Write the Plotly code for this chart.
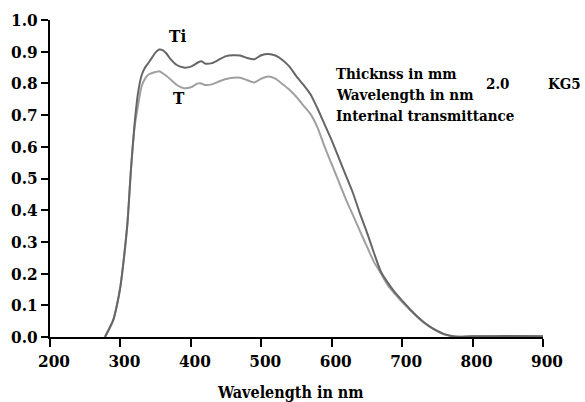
import plotly.graph_objects as go

wavelength = [278, 285, 290, 295, 300, 305, 310, 315, 320, 325, 330, 335, 340, 345, 350,
              355, 360, 365, 370, 380, 390, 400, 410, 415, 420, 430, 440, 450, 460, 470,
              480, 490, 500, 510, 520, 530, 540, 550, 560, 570, 580, 590, 600, 610, 620,
              630, 640, 650, 660, 670, 680, 690, 700, 710, 720, 730, 740, 750, 760, 770,
              780, 800, 850, 900]

ti_values = [0.0, 0.03, 0.055, 0.10, 0.16, 0.25, 0.36, 0.53, 0.67, 0.77, 0.825, 0.85, 0.865, 0.882, 0.898,
             0.907, 0.905, 0.895, 0.880, 0.858, 0.850, 0.853, 0.866, 0.870, 0.863, 0.864, 0.875, 0.886, 0.889, 0.888,
             0.880, 0.876, 0.889, 0.893, 0.888, 0.874, 0.853, 0.822, 0.795, 0.765, 0.72, 0.67, 0.62, 0.565, 0.51,
             0.455, 0.39, 0.33, 0.265, 0.205, 0.17, 0.14, 0.115, 0.09, 0.068, 0.048, 0.032, 0.019, 0.009, 0.003,
             0.001, 0.002, 0.003, 0.002]

t_values = [0.0, 0.03, 0.055, 0.10, 0.16, 0.25, 0.36, 0.53, 0.66, 0.73, 0.79, 0.815, 0.828, 0.833, 0.836,
            0.838, 0.832, 0.824, 0.815, 0.795, 0.785, 0.788, 0.800, 0.800, 0.795, 0.797, 0.806, 0.814, 0.818, 0.818,
            0.810, 0.803, 0.815, 0.822, 0.815, 0.798, 0.780, 0.757, 0.730, 0.703, 0.66, 0.60, 0.545, 0.49, 0.435,
            0.385, 0.335, 0.285, 0.237, 0.20, 0.162, 0.135, 0.11, 0.088, 0.066, 0.047, 0.031, 0.018, 0.008, 0.003,
            0.001, 0.002, 0.002, 0.002]

x_ticks = [200, 300, 400, 500, 600, 700, 800, 900]
y_ticks = [0.0, 0.1, 0.2, 0.3, 0.4, 0.5, 0.6, 0.7, 0.8, 0.9, 1.0]

serif = "DejaVu Serif Condensed, DejaVu Serif, serif"

fig = go.Figure()
fig.add_trace(go.Scatter(x=wavelength, y=t_values, mode="lines",
                         line=dict(color="#a0a0a0", width=2, shape="spline", smoothing=0.6),
                         name="T", showlegend=False, hoverinfo="skip"))
fig.add_trace(go.Scatter(x=wavelength, y=ti_values, mode="lines",
                         line=dict(color="#666666", width=2, shape="spline", smoothing=0.6),
                         name="Ti", showlegend=False, hoverinfo="skip"))

ann_font = dict(family=serif, size=17, color="black")
fig.add_annotation(x=381, y=0.95, text="<b>Ti</b>", showarrow=False, font=ann_font, xref="x", yref="y")
fig.add_annotation(x=383, y=0.755, text="<b>T</b>", showarrow=False, font=ann_font, xref="x", yref="y")

info_font = dict(family=serif, size=15, color="black")
fig.add_annotation(x=(334 - 49.5) / 494, y=1 - (74 - 20) / 317.5, text="<b>Thicknss in mm</b>", showarrow=False,
                   xanchor="left", yanchor="middle", font=info_font, xref="paper", yref="paper")
fig.add_annotation(x=(334 - 49.5) / 494, y=1 - (95 - 20) / 317.5, text="<b>Wavelength in nm</b>", showarrow=False,
                   xanchor="left", yanchor="middle", font=info_font, xref="paper", yref="paper")
fig.add_annotation(x=(334 - 49.5) / 494, y=1 - (116.5 - 20) / 317.5, text="<b>Interinal transmittance</b>",
                   showarrow=False, xanchor="left", yanchor="middle", font=info_font, xref="paper", yref="paper")
fig.add_annotation(x=(498 - 49.5) / 494, y=1 - (84 - 20) / 317.5, text="<b>2.0</b>", showarrow=False,
                   xanchor="center", yanchor="middle", font=info_font, xref="paper", yref="paper")
fig.add_annotation(x=(565 - 49.5) / 494, y=1 - (84 - 20) / 317.5, text="<b>KG5</b>", showarrow=False,
                   xanchor="center", yanchor="middle", font=info_font, xref="paper", yref="paper")
fig.add_annotation(x=(290 - 49.5) / 494, y=1 - (393 - 20) / 317.5, text="<b>Wavelength in nm</b>",
                   showarrow=False, xanchor="center", yanchor="middle",
                   font=dict(family=serif, size=16, color="black"), xref="paper", yref="paper")

fig.update_layout(
    width=585, height=402,
    margin=dict(l=49.5, r=41.5, t=20, b=64.5, autoexpand=False),
    paper_bgcolor="white", plot_bgcolor="white",
    xaxis=dict(range=[200, 900], tickvals=x_ticks, ticktext=[f"<b>{v}</b>" for v in x_ticks],
               showline=True, linecolor="black", linewidth=2, mirror=False,
               ticks="outside", ticklen=8, tickwidth=2, tickcolor="black",
               showgrid=False, zeroline=False, ticklabelshift=4,
               tickfont=dict(family=serif, size=17, color="black")),
    yaxis=dict(range=[0, 1], tickvals=y_ticks, ticktext=[f"<b>{v:.1f}</b>" for v in y_ticks],
               showline=True, linecolor="black", linewidth=2,
               ticks="outside", ticklen=7, tickwidth=2, tickcolor="black",
               showgrid=False, zeroline=False,
               tickfont=dict(family=serif, size=17, color="black")),
)

fig.write_html("out.html")
